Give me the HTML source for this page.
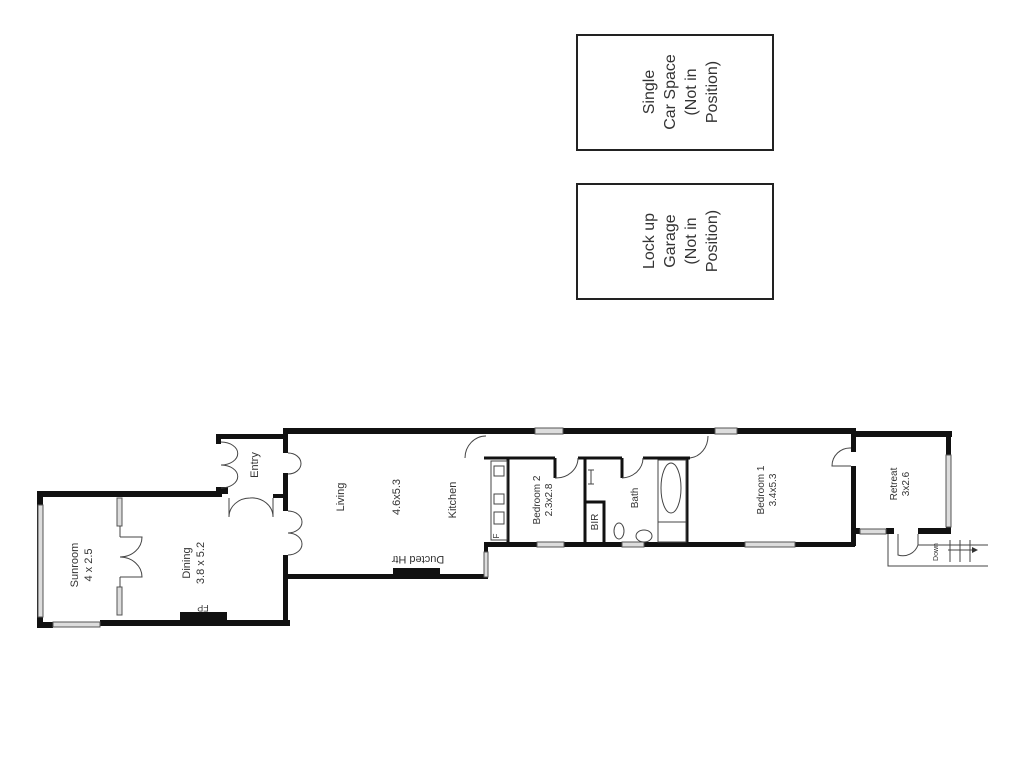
<!DOCTYPE html>
<html><head><meta charset="utf-8"><style>
html,body{margin:0;padding:0;background:#fff;}
svg{display:block;font-family:"Liberation Sans",sans-serif;}
</style></head><body>
<svg width="1024" height="765" viewBox="0 0 1024 765" xmlns="http://www.w3.org/2000/svg">
<rect width="1024" height="765" fill="#fff"/>
<rect x="577" y="35" width="196" height="115" fill="none" stroke="#222" stroke-width="2"/>
<rect x="577" y="184" width="196" height="115" fill="none" stroke="#222" stroke-width="2"/>
<g font-size="16" fill="#333" text-anchor="middle">
<text transform="translate(680,92) rotate(-90)"><tspan x="0" y="-26">Single</tspan><tspan x="0" y="-5">Car Space</tspan><tspan x="0" y="16">(Not in</tspan><tspan x="0" y="37">Position)</tspan></text>
<text transform="translate(680,241) rotate(-90)"><tspan x="0" y="-26">Lock up</tspan><tspan x="0" y="-5">Garage</tspan><tspan x="0" y="16">(Not in</tspan><tspan x="0" y="37">Position)</tspan></text>
</g>
<g fill="#111">
<rect x="283" y="428" width="572" height="6"/>
<rect x="851" y="431" width="101" height="6"/>
<rect x="946" y="431" width="5" height="102"/>
<rect x="918" y="528" width="33" height="6"/>
<rect x="851" y="428" width="5" height="24"/>
<rect x="851" y="466" width="5" height="80"/>
<rect x="851" y="528" width="9" height="6"/>
<rect x="886" y="528" width="8" height="6"/>
<rect x="484" y="542" width="371" height="5"/>
<rect x="283" y="428" width="5" height="25"/>
<rect x="283" y="473" width="5" height="38"/>
<rect x="283" y="555" width="5" height="70"/>
<rect x="287" y="574" width="200" height="5"/>
<rect x="393" y="568" width="47" height="9"/>
<rect x="216" y="434" width="70" height="5"/>
<rect x="216" y="434" width="5" height="10"/>
<rect x="216" y="487" width="12" height="7"/>
<rect x="273" y="494" width="14" height="4"/>
<rect x="37" y="491" width="185" height="6"/>
<rect x="37" y="491" width="6" height="137"/>
<rect x="37" y="622" width="16" height="6"/>
<rect x="100" y="620" width="190" height="6"/>
<rect x="180" y="612" width="47" height="9"/>
<rect x="484" y="542" width="4" height="37"/>
</g>
<g fill="#ddd" stroke="#555" stroke-width="1">
<rect x="535" y="428" width="28" height="6"/><rect x="715" y="428" width="22" height="6"/>
<rect x="946" y="455" width="5" height="72"/>
<rect x="860" y="529" width="26" height="5"/>
<rect x="537" y="542" width="27" height="5"/><rect x="622" y="542" width="22" height="5"/><rect x="745" y="542" width="50" height="5"/>
<rect x="484" y="552" width="4" height="25"/>
<rect x="38" y="505" width="5" height="112"/>
<rect x="53" y="622" width="47" height="5"/>
<rect x="117" y="498" width="5" height="28"/><rect x="117" y="587" width="5" height="28"/>
</g>
<g stroke="#111" stroke-width="3" fill="none">
<path d="M484 458 H555 M578 458 H622 M643 458 H690 M687 458 V543 M508 458 V543 M585 458 V543 M585 502 H604 V543"/>
<path d="M555 458 V478 M622 458 V478"/>
</g>
<g stroke="#444" stroke-width="1" fill="none">
<path d="M465 458 A21 22 0 0 1 486 436"/>
<path d="M690 458 A20 22 0 0 0 708 436"/>
<path d="M555 478 A22 20 0 0 0 578 458"/>
<path d="M622 478 A22 20 0 0 0 643 458"/>
<path d="M851 466 H832 A18 18 0 0 1 851 448"/>
<path d="M288 453 A13 10.5 0 0 1 288 474"/>
<path d="M288 511 A14 11 0 0 1 288 533 M288 533 A14 11 0 0 1 288 555"/>
<path d="M221 442 A16 11 0 0 1 221 465 M221 465 A16 11 0 0 1 221 488"/>
<path d="M229 498 V517 A21 19 0 0 1 250 498 M273 498 V517 A21 19 0 0 0 250 498"/>
<path d="M120 537 H142 A22 20 0 0 1 120 557 M120 577 H142 A22 20 0 0 0 120 557"/>
<path d="M120 526 V537 M120 577 V587"/>
<rect x="491" y="461" width="16" height="79"/>
<rect x="494" y="466" width="10" height="10"/>
<rect x="494" y="494" width="10" height="10"/>
<rect x="494" y="512" width="10" height="12"/>
<rect x="658" y="460" width="28" height="82"/>
<path d="M658 522 H686"/>
<ellipse cx="671" cy="488" rx="10" ry="25"/>
<path d="M591 470 V484 M588 470 H594 M588 484 H594"/>
<ellipse cx="619" cy="531" rx="5" ry="8"/>
<ellipse cx="644" cy="536" rx="8" ry="6"/>
<path d="M888 534 V566 H988 M918 534 V545 A16 16 0 0 1 898 555 V534 M918 545 H988 M950 540 V562 M960 540 V562 M970 540 V562 M948 550 H972"/>
</g>
<path d="M972 547 L978 550 L972 553 Z" fill="#333"/>
<g fill="#333" text-anchor="middle" font-size="11">
<text transform="translate(258,465) rotate(-90)">Entry</text>
<text transform="translate(344,497) rotate(-90)">Living</text>
<text transform="translate(400,497) rotate(-90)">4.6x5.3</text>
<text transform="translate(456,500) rotate(-90)">Kitchen</text>
<text transform="translate(418,556) rotate(180)">Ducted Htr</text>
<text transform="translate(78,565) rotate(-90)"><tspan x="0" y="0">Sunroom</tspan><tspan x="0" y="14">4 x 2.5</tspan></text>
<text transform="translate(190,563) rotate(-90)"><tspan x="0" y="0">Dining</tspan><tspan x="0" y="14">3.8 x 5.2</tspan></text>
<text transform="translate(203,605) rotate(180)" font-size="9">FP</text>
<text font-size="10" transform="translate(540,500) rotate(-90)"><tspan x="0" y="0">Bedroom 2</tspan><tspan x="0" y="12">2.3x2.8</tspan></text>
<text transform="translate(598,522) rotate(-90)" font-size="10">BIR</text>
<text transform="translate(638,498) rotate(-90)" font-size="10">Bath</text>
<text font-size="10" transform="translate(764,490) rotate(-90)"><tspan x="0" y="0">Bedroom 1</tspan><tspan x="0" y="12">3.4x5.3</tspan></text>
<text font-size="10" transform="translate(897,484) rotate(-90)"><tspan x="0" y="0">Retreat</tspan><tspan x="0" y="12">3x2.6</tspan></text>
<text transform="translate(499,536) rotate(-90)" font-size="8">F</text>
<text transform="translate(938,552) rotate(-90)" font-size="7">Down</text>
</g>
</svg>
</body></html>
